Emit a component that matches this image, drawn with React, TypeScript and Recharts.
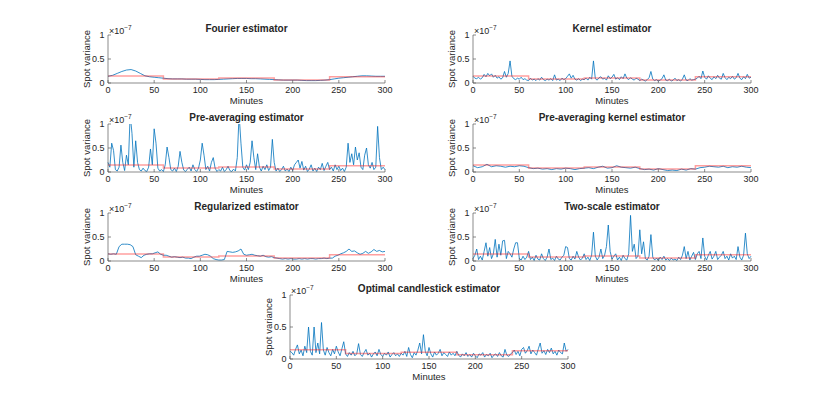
import { LineChart, Line, XAxis, YAxis } from 'recharts';

// spot variance in units of 1e-7
const minuteTicks = [0, 50, 100, 150, 200, 250, 300];
const varianceTicks = [0, 0.5, 1];

const truthMinutes = [0, 60, 120, 180, 240, 300];
const truthVariance = [0.145, 0.085, 0.105, 0.065, 0.13, 0.13];

// every 5 minutes
const fourier = [
  0.14, 0.16, 0.2, 0.24, 0.27, 0.28, 0.25, 0.2, 0.15, 0.13,
  0.12, 0.11, 0.1, 0.09, 0.085, 0.085, 0.085, 0.08, 0.08, 0.08,
  0.075, 0.07, 0.07, 0.07, 0.075, 0.08, 0.085, 0.09, 0.095, 0.095,
  0.095, 0.09, 0.09, 0.085, 0.08, 0.075, 0.07, 0.065, 0.06, 0.06,
  0.06, 0.06, 0.055, 0.05, 0.05, 0.05, 0.055, 0.06, 0.07, 0.085,
  0.1, 0.11, 0.12, 0.13, 0.14, 0.15, 0.15, 0.145, 0.14, 0.14,
  0.14,
];

// every 2 minutes
const kernel = [
  0.14, 0.1, 0.09, 0.12, 0.08, 0.11, 0.18, 0.13, 0.2, 0.15,
  0.19, 0.12, 0.16, 0.1, 0.13, 0.08, 0.11, 0.24, 0.12, 0.2,
  0.46, 0.14, 0.09, 0.07, 0.1, 0.08, 0.12, 0.07, 0.09, 0.06,
  0.05, 0.1, 0.06, 0.08, 0.05, 0.09, 0.06, 0.12, 0.07, 0.05,
  0.08, 0.06, 0.09, 0.05, 0.17, 0.06, 0.08, 0.05, 0.1, 0.07,
  0.09, 0.14, 0.19, 0.1, 0.16, 0.08, 0.06, 0.09, 0.05, 0.08,
  0.07, 0.1, 0.06, 0.12, 0.08, 0.46, 0.09, 0.06, 0.11, 0.13,
  0.08, 0.1, 0.06, 0.15, 0.09, 0.12, 0.18, 0.08, 0.11, 0.07,
  0.13, 0.09, 0.19, 0.1, 0.07, 0.11, 0.08, 0.06, 0.1, 0.08,
  0.05, 0.08, 0.06, 0.04, 0.07, 0.11, 0.24, 0.08, 0.05, 0.07,
  0.04, 0.06, 0.09, 0.17, 0.06, 0.05, 0.08, 0.04, 0.06, 0.1,
  0.05, 0.07, 0.04, 0.08, 0.17, 0.06, 0.05, 0.09, 0.06, 0.07,
  0.08, 0.1, 0.14, 0.09, 0.25, 0.12, 0.08, 0.15, 0.1, 0.07,
  0.13, 0.09, 0.16, 0.1, 0.08, 0.2, 0.11, 0.07, 0.12, 0.09,
  0.14, 0.08, 0.11, 0.2, 0.1, 0.07, 0.13, 0.09, 0.18, 0.1,
  0.12,
];

// every 2 minutes
const preAveraging = [
  0.2, 0.1, 0.6, 0.45, 0.05, 0.02, 0.1, 0.56, 0.2, 0.03,
  0.35, 0.15, 1.2, 0.8, 0.1, 0.65, 0.2, 0.05, 0.02, 0.08,
  0.03, 0.01, 0.1, 0.48, 0.15, 0.9, 0.6, 0.08, 0.02, 0.05,
  0.01, 0.15, 0.52, 0.3, 0.05, 0.02, 0.08, 0.01, 0.12, 0.43,
  0.2, 0.04, 0.01, 0.06, 0.1, 0.02, 0.15, 0.05, 0.01, 0.08,
  0.25, 0.6, 0.35, 0.05, 0.12, 0.02, 0.2, 0.3, 0.08, 0.01,
  0.05, 0.02, 0.1, 0.01, 0.05, 0.12, 0.03, 0.01, 0.06, 0.02,
  0.3, 1.2, 0.6, 0.1, 0.04, 0.15, 0.05, 0.2, 0.65, 0.3,
  0.05, 0.38, 0.1, 0.02, 0.12, 0.05, 0.15, 0.03, 0.1, 0.68,
  0.2, 0.02, 0.08, 0.01, 0.05, 0.12, 0.02, 0.06, 0.01, 0.1,
  0.03, 0.15, 0.2, 0.25, 0.08, 0.22, 0.04, 0.12, 0.01, 0.06,
  0.15, 0.02, 0.08, 0.01, 0.1, 0.05, 0.18, 0.03, 0.12, 0.2,
  0.05, 0.1, 0.02, 0.15, 0.05, 0.12, 0.03, 0.08, 0.01, 0.1,
  0.6, 0.2, 0.38, 0.15, 0.52, 0.25, 0.4, 0.1, 0.05, 0.35,
  0.5, 0.15, 0.08, 0.2, 0.05, 0.1, 0.95, 0.3, 0.05, 0.1,
  0.05,
];

// every 5 minutes
const preAveragingKernel = [
  0.13, 0.09, 0.11, 0.16, 0.11, 0.13, 0.12, 0.1, 0.12, 0.11,
  0.13, 0.12, 0.09, 0.07, 0.08, 0.06, 0.07, 0.05, 0.07, 0.06,
  0.08, 0.07, 0.05, 0.07, 0.08, 0.09, 0.07, 0.1, 0.12, 0.08,
  0.09, 0.13, 0.1, 0.09, 0.08, 0.1, 0.07, 0.05, 0.06, 0.04,
  0.07, 0.05, 0.03, 0.04, 0.03, 0.06, 0.04, 0.07, 0.06, 0.09,
  0.1, 0.12, 0.11, 0.1, 0.12, 0.09, 0.11, 0.1, 0.12, 0.1,
  0.09,
];

// every 3 minutes
const regularized = [
  0.15, 0.14, 0.15, 0.14, 0.3, 0.35, 0.35, 0.35, 0.34, 0.3,
  0.13, 0.1, 0.07, 0.12, 0.14, 0.15, 0.15, 0.17, 0.19, 0.14,
  0.12, 0.12, 0.1, 0.08, 0.09, 0.08, 0.07, 0.08, 0.06, 0.06,
  0.05, 0.08, 0.1, 0.1, 0.12, 0.14, 0.13, 0.1, 0.05, 0.03,
  0.02, 0.02, 0.03, 0.2, 0.19, 0.18, 0.19, 0.21, 0.25, 0.14,
  0.12, 0.13, 0.14, 0.12, 0.11, 0.1, 0.12, 0.09, 0.08, 0.09,
  0.07, 0.06, 0.05, 0.04, 0.05, 0.04, 0.05, 0.04, 0.04, 0.05,
  0.04, 0.05, 0.04, 0.05, 0.05, 0.04, 0.05, 0.05, 0.06, 0.05,
  0.06, 0.06, 0.1, 0.12, 0.15, 0.17, 0.2, 0.25, 0.2, 0.21,
  0.17, 0.14, 0.16, 0.2, 0.16, 0.19, 0.24, 0.2, 0.22, 0.19,
  0.2,
];

// every 2 minutes
const twoScale = [
  0.05, 0.12, 0.25, 0.03, 0.1, 0.02, 0.2, 0.38, 0.1, 0.28,
  0.05, 0.15, 0.45, 0.08, 0.35, 0.12, 0.42, 0.43, 0.05, 0.2,
  0.15, 0.08, 0.25, 0.38, 0.38, 0.05, 0.02, 0.1, 0.03, 0.08,
  0.2, 0.03, 0.08, 0.01, 0.12, 0.04, 0.02, 0.15, 0.05, 0.01,
  0.08, 0.25, 0.03, 0.06, 0.01, 0.1, 0.04, 0.02, 0.08, 0.12,
  0.3, 0.28, 0.05, 0.02, 0.1, 0.04, 0.2, 0.08, 0.02, 0.06,
  0.15, 0.03, 0.08, 0.01, 0.12, 0.6, 0.1, 0.02, 0.08, 0.25,
  0.05, 0.12, 0.3, 0.75, 0.2, 0.04, 0.1, 0.15, 0.02, 0.08,
  0.01, 0.12, 0.05, 0.02, 0.15, 0.95, 0.2, 0.35, 0.05, 0.1,
  0.65, 0.15, 0.4, 0.05, 0.02, 0.1, 0.55, 0.08, 0.02, 0.06,
  0.01, 0.08, 0.03, 0.1, 0.02, 0.05, 0.01, 0.06, 0.02, 0.04,
  0.01, 0.08, 0.03, 0.12, 0.3, 0.05, 0.2, 0.02, 0.1, 0.18,
  0.03, 0.15, 0.2, 0.05, 0.48, 0.1, 0.02, 0.12, 0.2, 0.04,
  0.1, 0.2, 0.03, 0.08, 0.12, 0.2, 0.05, 0.1, 0.02, 0.15,
  0.06, 0.1, 0.03, 0.3, 0.08, 0.02, 0.12, 0.58, 0.15, 0.05,
  0.1,
];

// every 2 minutes
const optimalCandlestick = [
  0.12, 0.1, 0.06, 0.15, 0.22, 0.08, 0.14, 0.05, 0.2, 0.1,
  0.5, 0.12, 0.06, 0.5, 0.1, 0.25, 0.08, 0.57, 0.14, 0.06,
  0.18, 0.1, 0.05, 0.15, 0.08, 0.2, 0.11, 0.05, 0.16, 0.27,
  0.08, 0.04, 0.1, 0.06, 0.12, 0.05, 0.08, 0.24, 0.07, 0.04,
  0.1, 0.15, 0.06, 0.09, 0.03, 0.08, 0.11, 0.05, 0.15, 0.07,
  0.04, 0.09, 0.06, 0.11, 0.03, 0.07, 0.1, 0.05, 0.08, 0.04,
  0.09, 0.06, 0.12, 0.04, 0.18, 0.07, 0.02, 0.1, 0.06, 0.14,
  0.25, 0.08, 0.38, 0.12, 0.05, 0.18, 0.08, 0.03, 0.11, 0.06,
  0.09, 0.15, 0.05, 0.1, 0.07, 0.04, 0.11, 0.06, 0.09, 0.05,
  0.12, 0.06, 0.03, 0.08, 0.05, 0.1, 0.04, 0.07, 0.03, 0.09,
  0.05, 0.02, 0.08, 0.06, 0.1, 0.03, 0.07, 0.05, 0.09, 0.02,
  0.06, 0.08, 0.04, 0.1, 0.05, 0.03, 0.15, 0.06, 0.04, 0.08,
  0.1, 0.14, 0.07, 0.12, 0.05, 0.15, 0.18, 0.09, 0.13, 0.2,
  0.08, 0.14, 0.1, 0.06, 0.16, 0.25, 0.09, 0.13, 0.07, 0.15,
  0.1, 0.17, 0.08, 0.12, 0.06, 0.14, 0.1, 0.08, 0.25, 0.12,
  0.15,
];

const panels = [
  { title: 'Fourier estimator', values: fourier, step: 5, left: 108, top: 35, width: 277, height: 48 },
  { title: 'Kernel estimator', values: kernel, step: 2, left: 473, top: 35, width: 278, height: 48 },
  { title: 'Pre-averaging estimator', values: preAveraging, step: 2, left: 108, top: 124, width: 277, height: 48 },
  { title: 'Pre-averaging kernel estimator', values: preAveragingKernel, step: 5, left: 473, top: 124, width: 278, height: 48 },
  { title: 'Regularized estimator', values: regularized, step: 3, left: 108, top: 213, width: 277, height: 48 },
  { title: 'Two-scale estimator', values: twoScale, step: 2, left: 473, top: 213, width: 278, height: 48 },
  { title: 'Optimal candlestick estimator', values: optimalCandlestick, step: 2, left: 290, top: 295, width: 278, height: 64 },
];

const FONT = '"Liberation Sans", Arial, Helvetica, sans-serif';
const AXIS = '#5a5a5a';
const TEXT = '#262626';
const BLUE = '#0072BD';
const RED = '#FF1A1A';

const ML = 60;
const MT = 6;
const MR = 8;
const MB = 4;
const XH = 21;
const YW = 42;

type PanelSpec = (typeof panels)[number];

function Panel({ p }: { p: PanelSpec }) {
  const rows = p.values.map((v, i) => ({ t: i * p.step, v }));
  const truth = truthMinutes.map((t, i) => ({ t, v: truthVariance[i] }));
  const tickStyle = { fontSize: 9, fill: TEXT, fontFamily: FONT };
  return (
    <div style={{ position: 'absolute', left: p.left - ML, top: p.top - MT }}>
      <LineChart
        width={p.width + ML + MR}
        height={p.height + MT + XH + MB}
        margin={{ top: MT, right: MR, bottom: MB, left: ML - YW }}
      >
        <XAxis
          xAxisId="b"
          dataKey="t"
          type="number"
          domain={[0, 300]}
          ticks={minuteTicks}
          height={XH}
          tickSize={-3}
          tickMargin={7}
          stroke={AXIS}
          strokeWidth={0.7}
          tick={tickStyle}
          label={{ value: 'Minutes', position: 'insideBottom', offset: 0, fontSize: 9.5, fill: TEXT, fontFamily: FONT }}
        />
        <XAxis
          xAxisId="top"
          orientation="top"
          type="number"
          domain={[0, 300]}
          ticks={minuteTicks}
          height={0}
          tickSize={-3}
          tick={false}
          stroke={AXIS}
          strokeWidth={0.7}
        />
        <YAxis
          yAxisId="l"
          type="number"
          domain={[0, 1]}
          allowDataOverflow
          ticks={varianceTicks}
          width={YW}
          tickSize={-3}
          tickMargin={6.5}
          stroke={AXIS}
          strokeWidth={0.7}
          tick={tickStyle}
          label={{ value: 'Spot variance', angle: -90, position: 'center', fontSize: 9.5, fill: TEXT, fontFamily: FONT }}
        />
        <YAxis
          yAxisId="r"
          orientation="right"
          type="number"
          domain={[0, 1]}
          ticks={varianceTicks}
          width={0}
          tickSize={-3}
          tick={false}
          stroke={AXIS}
          strokeWidth={0.7}
        />
        <Line
          xAxisId="b"
          yAxisId="l"
          data={rows}
          dataKey="v"
          type="linear"
          stroke={BLUE}
          strokeWidth={0.8}
          dot={false}
          isAnimationActive={false}
        />
        <Line
          xAxisId="b"
          yAxisId="l"
          data={truth}
          dataKey="v"
          type="stepAfter"
          stroke={RED}
          strokeOpacity={0.42}
          strokeWidth={1.5}
          dot={false}
          isAnimationActive={false}
        />
      </LineChart>
    </div>
  );
}

export default function App() {
  return (
    <div style={{ position: 'absolute', left: 0, top: 0, width: 830, height: 404, background: '#fff', fontFamily: FONT }}>
      {panels.map((p) => (
        <Panel key={p.title} p={p} />
      ))}
      <svg width={830} height={404} style={{ position: 'absolute', left: 0, top: 0, pointerEvents: 'none' }}>
        {panels.map((p) => (
          <g key={p.title} fontFamily={FONT} fill={TEXT}>
            <text x={p.left + p.width / 2} y={p.top - 3} textAnchor="middle" fontSize={10} fontWeight="bold">
              {p.title}
            </text>
            <text x={p.left + 1} y={p.top - 1} fontSize={9}>
              ×10
              <tspan dy={-4} fontSize={6.5}>
                −7
              </tspan>
            </text>
          </g>
        ))}
      </svg>
    </div>
  );
}
